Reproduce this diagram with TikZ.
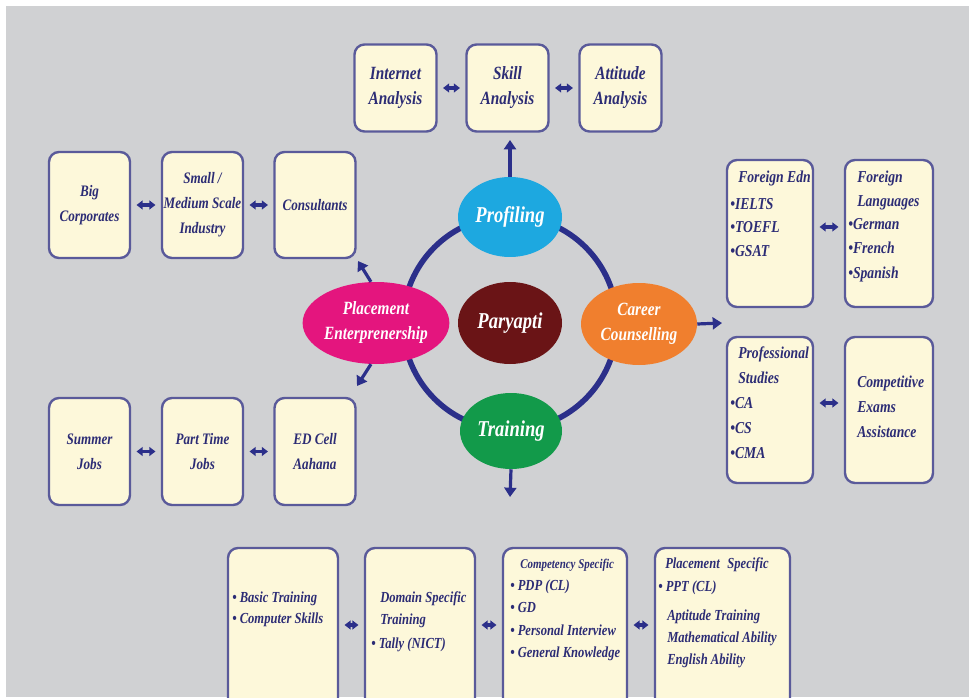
\documentclass[tikz,border=0pt]{standalone}
\usepackage{fontspec}
\setmainfont{Liberation Serif}[FakeStretch=0.82]
\usetikzlibrary{shapes.geometric,arrows.meta}
\definecolor{bg}{HTML}{D0D1D3}
\definecolor{boxfill}{HTML}{FDF8DA}
\definecolor{boxdraw}{HTML}{5A5A9A}
\definecolor{navy}{HTML}{2C2C75}
\definecolor{ringc}{HTML}{2B2F8A}
\definecolor{cprof}{HTML}{1DA8E0}
\definecolor{cpar}{HTML}{6A1416}
\definecolor{ccar}{HTML}{F07F2E}
\definecolor{cplc}{HTML}{E4157E}
\definecolor{ctrn}{HTML}{129A4A}
\newcommand\fsz[2]{\fontsize{#1}{#2}\selectfont}
\begin{document}
\begin{tikzpicture}[x=0.75pt,y=-0.75pt,
  box/.style={draw=boxdraw, fill=boxfill, line width=1.8pt, rounded corners=7.5pt,
    inner sep=0pt, align=center, text=navy, font=\bfseries\itshape},
  topbox/.style={box, minimum width=61.5pt, minimum height=65.25pt, font=\bfseries\itshape\fsz{14pt}{18.75pt}},
  lbox/.style={box, minimum width=60.75pt, minimum height=#1, font=\bfseries\itshape\fsz{12pt}{18.75pt}},
  ln/.style={anchor=base west, inner sep=0pt, text=navy, font=\bfseries\itshape\fsz{12.5pt}{15pt}},
  lns/.style={ln, font=\bfseries\itshape\fsz{11.5pt}{14pt}},
  lnh/.style={ln, font=\bfseries\itshape\fsz{10pt}{12pt}},
  ell/.style={ellipse, inner sep=0pt, text=white, align=center, font=\bfseries\itshape},
  dbl/.style={{Triangle[length=4.5pt,width=6.5pt]}-{Triangle[length=4.5pt,width=6.5pt]},
    line width=2.4pt, draw=ringc, shorten <=4pt, shorten >=4pt},
  arr/.style={-{Triangle[length=7pt,width=9pt]}, line width=2.4pt, draw=ringc},
  ring/.style={draw=ringc, line width=4.2pt}]
\useasboundingbox (0,0) rectangle (969,698);
\clip (0,0) rectangle (969,698);
\fill[white] (0,0) rectangle (969,698);
\fill[bg] (6,6) rectangle (969,697);

% ---- top boxes
\node[topbox] (ia) at (395.5,88) {Internet\\Analysis};
\node[topbox] (sa) at (507.5,88) {Skill\\Analysis};
\node[topbox] (aa) at (620.5,88) {Attitude\\Analysis};
\draw[dbl] (ia.east) -- (sa.west);
\draw[dbl] (sa.east) -- (aa.west);

% ---- left top boxes
\node[lbox=79.5pt] (bc) at (89.5,205) {Big\\Corporates};
\node[lbox=79.5pt] (sm) at (202.5,205) {Small /\\Medium Scale\\Industry};
\node[lbox=79.5pt] (co) at (315,205) {Consultants};
\draw[dbl] (bc.east) -- (sm.west);
\draw[dbl] (sm.east) -- (co.west);

% ---- left bottom boxes
\node[lbox=80.25pt] (sj) at (89.5,451.5) {Summer\\Jobs};
\node[lbox=80.25pt] (pt) at (202.5,451.5) {Part Time\\Jobs};
\node[lbox=80.25pt] (ed) at (315,451.5) {ED Cell\\Aahana};
\draw[dbl] (sj.east) -- (pt.west);
\draw[dbl] (pt.east) -- (ed.west);

% ---- right boxes
\node[box, minimum width=64.5pt, minimum height=110.25pt] (fe) at (770,233.5) {};
\node[box, minimum width=66pt, minimum height=110.25pt] (fl) at (889,233.5) {};
\node[box, minimum width=64.5pt, minimum height=109.5pt] (ps) at (770,410) {};
\node[box, minimum width=66pt, minimum height=109.5pt] (ce) at (889,410) {};
\draw[dbl] ([yshift=4.9pt]fe.east) -- ([yshift=4.9pt]fl.west);
\draw[dbl] ([yshift=5.25pt]ps.east) -- ([yshift=5.25pt]ce.west);
\foreach \n/\x/\y/\t in {a/738/183/Foreign Edn, b/730/210/•IELTS, c/730/233/•TOEFL, d/730/257/•GSAT}
  \node[ln] (fe\n) at (\x,\y) {\t};
\foreach \n/\x/\y/\t in {a/857/183/Foreign, b/857/207/Languages, c/848/230/•German, d/848/254/•French, e/848/278/•Spanish}
  \node[ln] (fl\n) at (\x,\y) {\t};
\foreach \n/\x/\y/\t in {a/738/358/Professional, b/738/383/Studies, c/730/408/•CA, d/730/433/•CS, e/730/458/•CMA}
  \node[ln] (ps\n) at (\x,\y) {\t};
\foreach \n/\x/\y/\t in {a/857/387/Competitive, b/857/412/Exams, c/857/437/Assistance}
  \node[ln] (ce\n) at (\x,\y) {\t};

% ---- bottom boxes
\node[box, minimum width=82.5pt, minimum height=123pt] (b1) at (283,630) {};
\node[box, minimum width=82.5pt, minimum height=123pt] (b2) at (420,630) {};
\node[box, minimum width=93pt, minimum height=123pt] (b3) at (565,630) {};
\node[box, minimum width=101.25pt, minimum height=123pt] (b4) at (722.5,630) {};
\draw[dbl] ([yshift=3.75pt]b1.east) -- ([yshift=3.75pt]b2.west);
\draw[dbl] ([yshift=3.75pt]b2.east) -- ([yshift=3.75pt]b3.west);
\draw[dbl] ([yshift=3.75pt]b3.east) -- ([yshift=3.75pt]b4.west);
\foreach \n/\x/\y/\t in {a/232/602/• Basic Training, b/232/623/• Computer Skills}
  \node[lns] (bt\n) at (\x,\y) {\t};
\foreach \n/\x/\y/\t in {a/380/602/Domain Specific, b/380/624/Training, c/371/648/• Tally (NICT)}
  \node[lns] (ds\n) at (\x,\y) {\t};
\node[lnh] (csa) at (520,568) {Competency Specific};
\foreach \n/\x/\y/\t in {b/510/590/• PDP (CL), c/510/612/• GD, d/510/635/• Personal Interview, e/510/657/• General Knowledge}
  \node[lns] (cs\n) at (\x,\y) {\t};
\foreach \n/\x/\y/\t in {a/665/568/Placement\enspace Specific, b/658/591/• PPT (CL), c/667/620/Aptitude Training, d/667/642/Mathematical Ability, e/667/664/English Ability}
  \node[lns] (pl\n) at (\x,\y) {\t};

% ---- central ring and ellipses
\coordinate (ctr) at (510,323);
\draw[ring] (ctr) circle[radius=80.25pt];
\node[ell, fill=cprof, minimum width=78pt, minimum height=60pt, font=\bfseries\itshape\fsz{17pt}{20pt}] (prof) at (510,217) {Profiling};
\node[ell, fill=cpar, minimum width=78pt, minimum height=61.5pt, font=\bfseries\itshape\fsz{17pt}{20pt}] (par) at (510,323) {Paryapti};
\node[ell, fill=ccar, minimum width=87pt, minimum height=61.5pt, font=\bfseries\itshape\fsz{14pt}{18.75pt}] (car) at (639,324) {Career\\Counselling};
\node[ell, fill=cplc, minimum width=85.5pt, minimum height=61.5pt, font=\bfseries\itshape\fsz{14pt}{18.75pt}] (plc) at (376,323) {Placement\\Enterprenership};
\node[ell, fill=ctrn, minimum width=76.5pt, minimum height=57pt, font=\bfseries\itshape\fsz{17pt}{20pt}] (trn) at (511,431) {Training};

% ---- outgoing arrows
\coordinate (profUp) at (510,140);
\coordinate (trnDn) at (510,497);
\coordinate (carRt) at (722,323);
\coordinate (plcUL) at (358,261);
\coordinate (plcDL) at (357,386);
\draw[arr] (prof.north) -- (profUp);
\draw[arr] (trn.south) -- (trnDn);
\draw[arr] (car.east) -- (carRt);
\draw[arr] (plc.97) -- (plcUL);
\draw[arr] (plc.263) -- (plcDL);
\end{tikzpicture}
\end{document}
